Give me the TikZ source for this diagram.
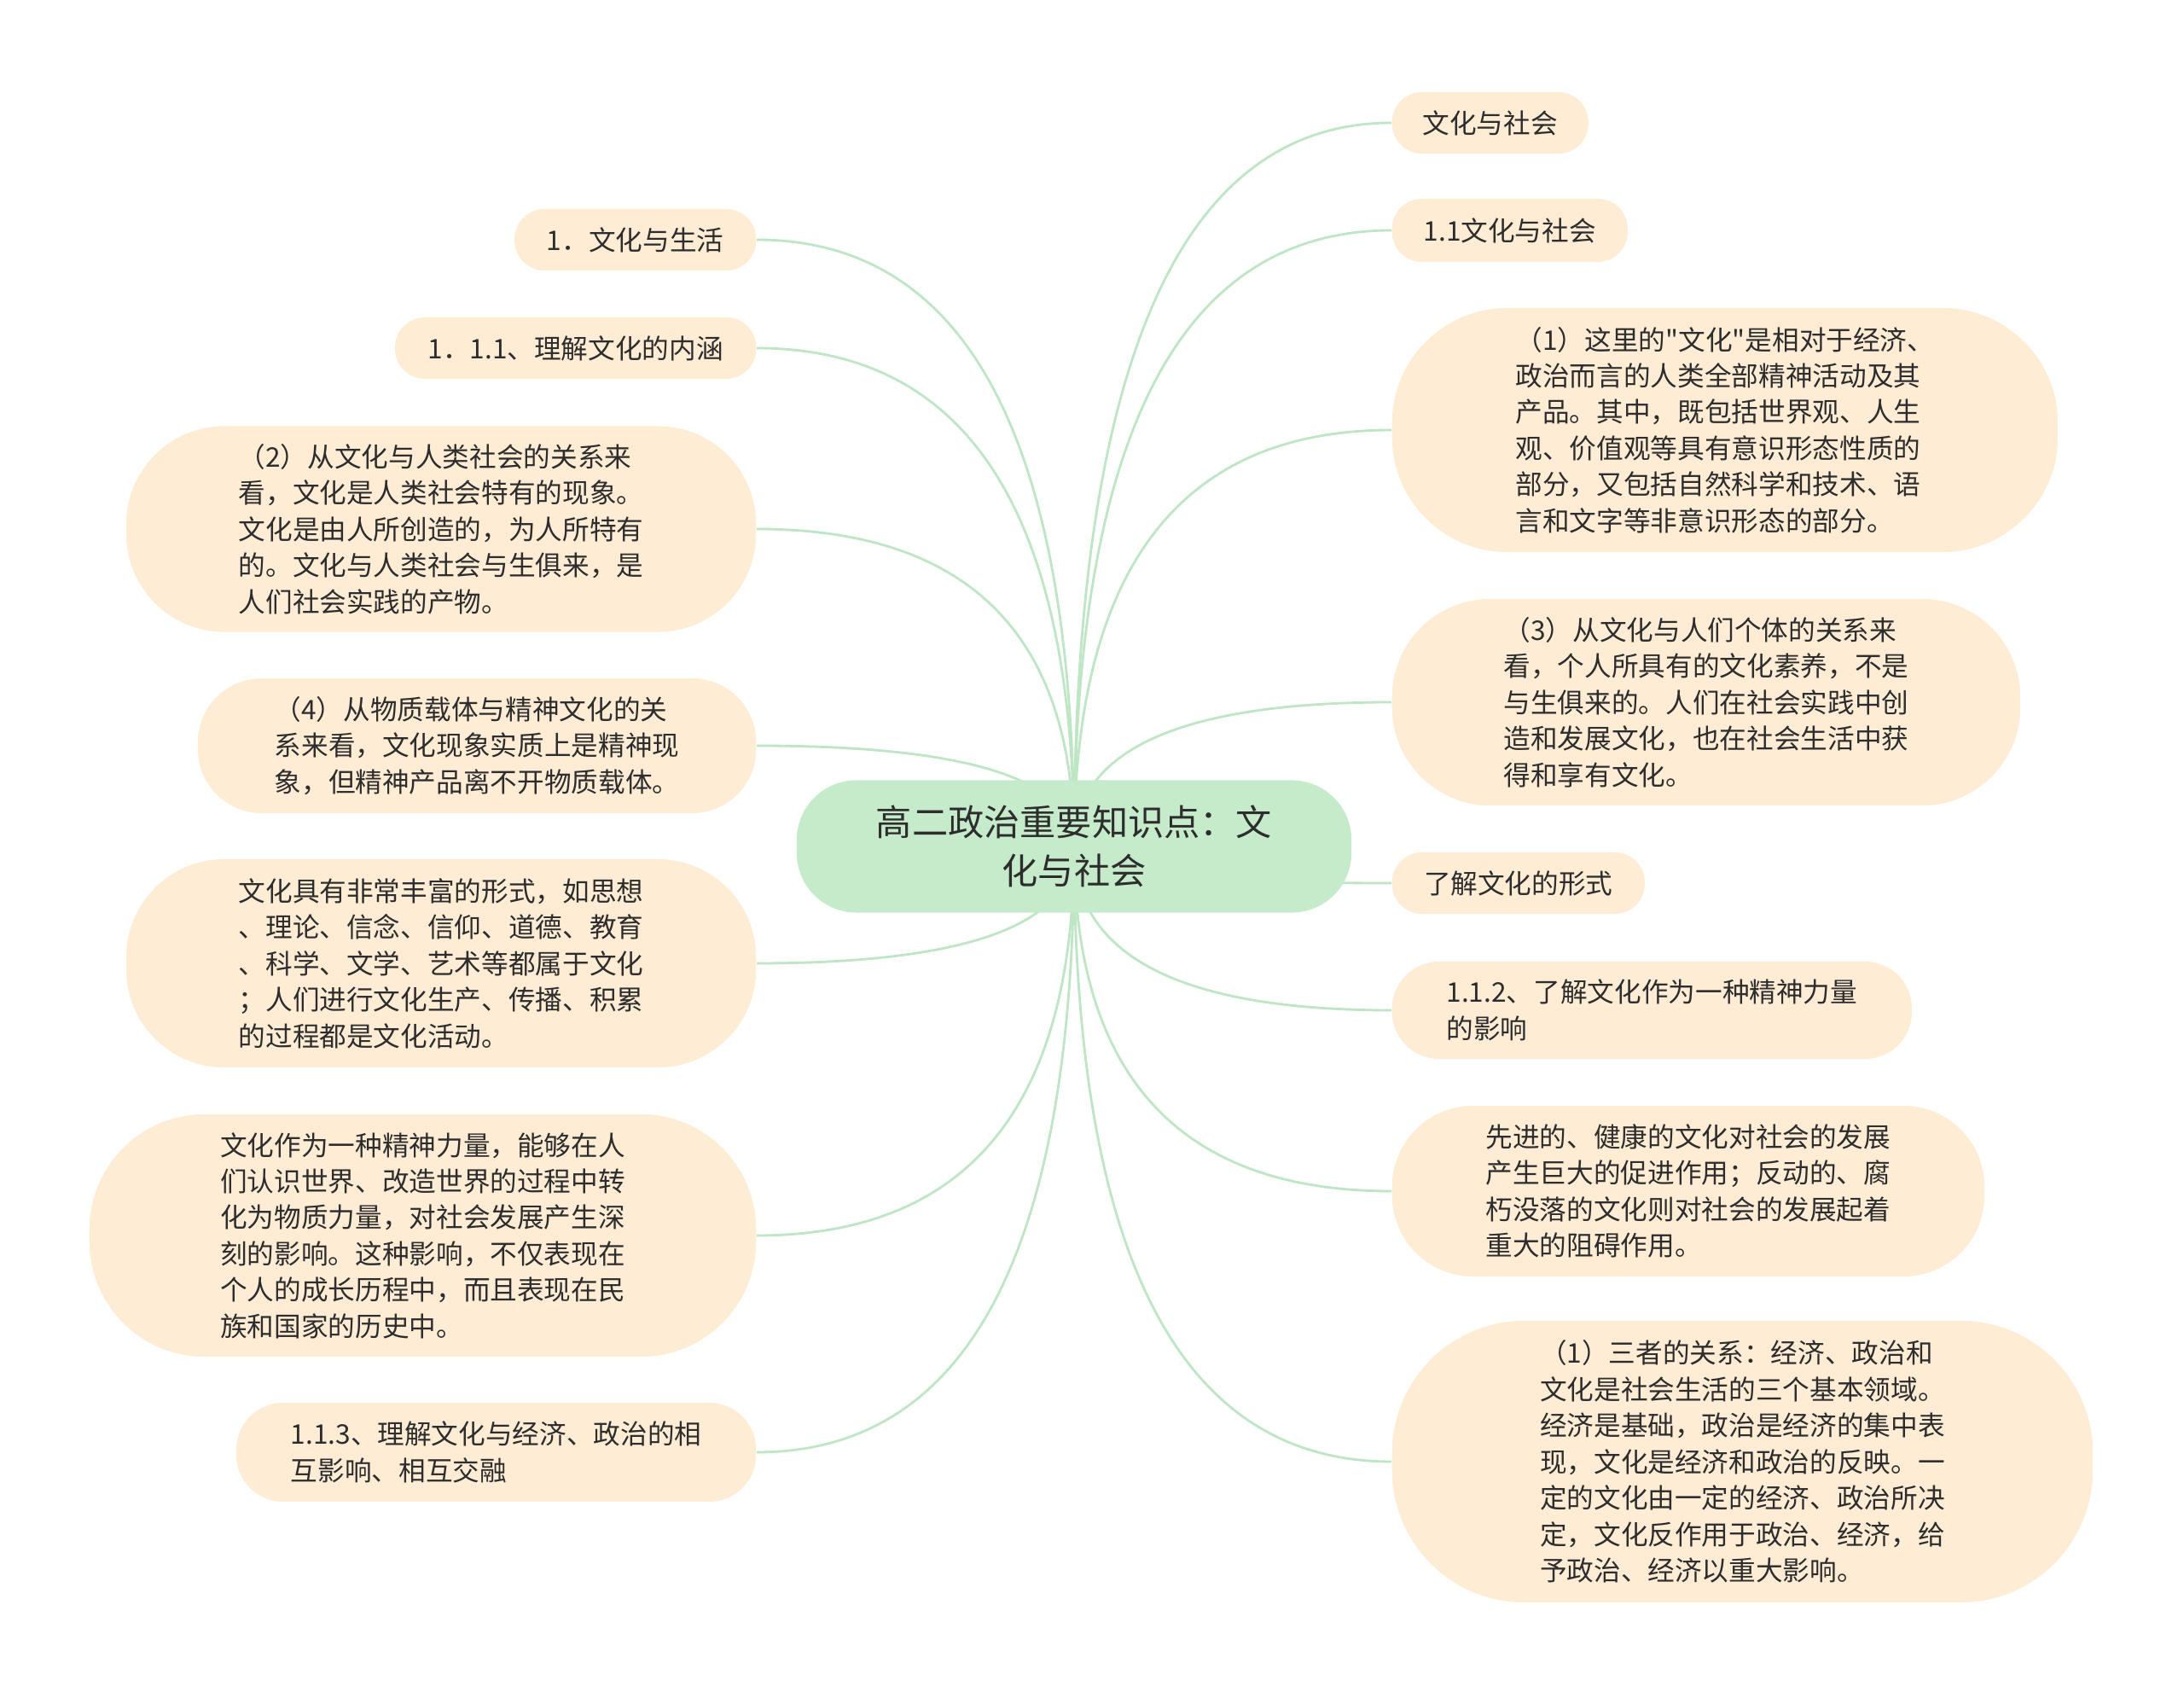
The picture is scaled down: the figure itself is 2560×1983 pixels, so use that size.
\documentclass[tikz,border=0pt]{standalone}
\usepackage{fontspec}
\setmainfont{Noto Sans CJK SC}[Ligatures=TeXOff]
\usepackage{tikz}
\usetikzlibrary{positioning, backgrounds, calc}
\definecolor{mapgreen}{RGB}{197,235,203}
\definecolor{mappeach}{RGB}{254,236,212}
\definecolor{mapline}{RGB}{190,229,196}
\definecolor{maptext}{RGB}{45,45,45}

\begin{document}
\begin{tikzpicture}[
  x=0.01cm, y=-0.01cm,
  root/.style={rectangle, rounded corners=7mm, fill=mapgreen, text=maptext,
               minimum width=6.5cm, minimum height=1.55cm, inner sep=0pt,
               font=\fontsize{12pt}{16.2pt}\selectfont, align=center},
  leaf/.style={rectangle, rounded corners=#1, fill=mappeach, text=maptext,
               inner sep=0pt, font=\fontsize{9pt}{12.07pt}\selectfont,
               align=left},
  leaf/.default=3.5mm,
  link/.style={draw=mapline, line width=0.8pt},
  branch/.style={to path={.. controls
      ($(\tikztostart)!0.667!(\tikztostart |- \tikztotarget)$) and
      ($(\tikztotarget)!0.667!(\tikztostart |- \tikztotarget)$) .. (\tikztotarget)}},
]
\useasboundingbox (0,0) rectangle (2560,1983);

% Centre
\node[root] (root) at (1259,992) {高二政治重要知识点：文\\化与社会};

% Left branches
\node[leaf, anchor=east, minimum width=2.83cm, minimum height=0.72cm]
  (l1) at (887,281) {1．文化与生活};
\node[leaf, anchor=east, minimum width=4.23cm, minimum height=0.72cm]
  (l2) at (887,408) {1．1.1、理解文化的内涵};
\node[leaf=11.5mm, anchor=east, minimum width=7.38cm, minimum height=2.41cm]
  (l3) at (887,620) {（2）从文化与人类社会的关系来\\看，文化是人类社会特有的现象。\\文化是由人所创造的，为人所特有\\的。文化与人类社会与生俱来，是\\人们社会实践的产物。};
\node[leaf=7.5mm, anchor=east, minimum width=6.54cm, minimum height=1.58cm]
  (l4) at (887,874) {（4）从物质载体与精神文化的关\\系来看，文化现象实质上是精神现\\象，但精神产品离不开物质载体。};
\node[leaf=11.5mm, anchor=east, minimum width=7.38cm, minimum height=2.44cm]
  (l5) at (887,1129) {文化具有非常丰富的形式，如思想\\、理论、信念、信仰、道德、教育\\、科学、文学、艺术等都属于文化\\；人们进行文化生产、传播、积累\\的过程都是文化活动。};
\node[leaf=13.5mm, anchor=east, minimum width=7.81cm, minimum height=2.84cm]
  (l6) at (887,1448) {文化作为一种精神力量，能够在人\\们认识世界、改造世界的过程中转\\化为物质力量，对社会发展产生深\\刻的影响。这种影响，不仅表现在\\个人的成长历程中，而且表现在民\\族和国家的历史中。};
\node[leaf=5.5mm, anchor=east, minimum width=6.09cm, minimum height=1.16cm]
  (l7) at (887,1702) {1.1.3、理解文化与经济、政治的相\\互影响、相互交融};

% Right branches
\node[leaf, anchor=west, minimum width=2.30cm, minimum height=0.72cm]
  (r1) at (1631,144) {文化与社会};
\node[leaf, anchor=west, minimum width=2.76cm, minimum height=0.74cm]
  (r2) at (1631,270) {1.1文化与社会};
\node[leaf=13.5mm, anchor=west, minimum width=7.80cm, minimum height=2.86cm]
  (r3) at (1631,504) {（1）这里的"文化"是相对于经济、\\政治而言的人类全部精神活动及其\\产品。其中，既包括世界观、人生\\观、价值观等具有意识形态性质的\\部分，又包括自然科学和技术、语\\言和文字等非意识形态的部分。};
\node[leaf=11.5mm, anchor=west, minimum width=7.36cm, minimum height=2.42cm]
  (r4) at (1631,823) {（3）从文化与人们个体的关系来\\看，个人所具有的文化素养，不是\\与生俱来的。人们在社会实践中创\\造和发展文化，也在社会生活中获\\得和享有文化。};
\node[leaf, anchor=west, minimum width=2.96cm, minimum height=0.72cm]
  (r5) at (1631,1035) {了解文化的形式};
\node[leaf=5.5mm, anchor=west, minimum width=6.09cm, minimum height=1.14cm]
  (r6) at (1631,1184) {1.1.2、了解文化作为一种精神力量\\的影响};
\node[leaf=9.5mm, anchor=west, minimum width=6.94cm, minimum height=2.00cm]
  (r7) at (1631,1396) {先进的、健康的文化对社会的发展\\产生巨大的促进作用；反动的、腐\\朽没落的文化则对社会的发展起着\\重大的阻碍作用。};
\node[leaf=15.5mm, anchor=west, minimum width=8.21cm, minimum height=3.30cm]
  (r8) at (1631,1713) {（1）三者的关系：经济、政治和\\文化是社会生活的三个基本领域。\\经济是基础，政治是经济的集中表\\现，文化是经济和政治的反映。一\\定的文化由一定的经济、政治所决\\定，文化反作用于政治、经济，给\\予政治、经济以重大影响。};

% Connectors
\begin{scope}[on background layer]
\draw[link, branch] (root.center) to (l1.east);
\draw[link, branch] (root.center) to (l2.east);
\draw[link, branch] (root.center) to (l3.east);
\draw[link, branch] (root.center) to (l4.east);
\draw[link, branch] (root.center) to (l5.east);
\draw[link, branch] (root.center) to (l6.east);
\draw[link, branch] (root.center) to (l7.east);
\draw[link, branch] (root.center) to (r1.west);
\draw[link, branch] (root.center) to (r2.west);
\draw[link, branch] (root.center) to (r3.west);
\draw[link, branch] (root.center) to (r4.west);
\draw[link, branch] (root.center) to (r5.west);
\draw[link, branch] (root.center) to (r6.west);
\draw[link, branch] (root.center) to (r7.west);
\draw[link, branch] (root.center) to (r8.west);
\end{scope}

\end{tikzpicture}
\end{document}
